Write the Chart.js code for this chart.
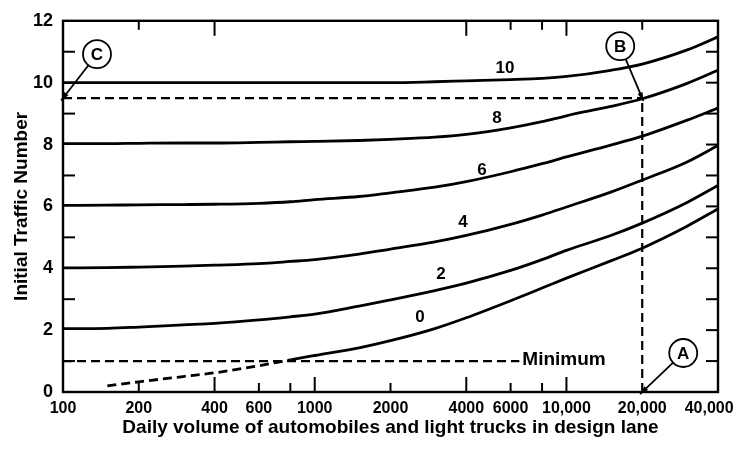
<!DOCTYPE html>
<html>
<head>
<meta charset="utf-8">
<script src="https://cdn.jsdelivr.net/npm/chart.js@4.4.0/dist/chart.umd.min.js"></script>
<style>
  html, body { margin: 0; padding: 0; background: #fff; }
  #wrap { width: 739px; height: 452px; }
</style>
</head>
<body>
<div id="wrap"><canvas id="chart"></canvas></div>
<script>
// daily volume (x, log) and initial traffic number per heavy-vehicle curve
var volumes = [100, 150, 200, 300, 400, 600, 800, 1000, 1500, 2000, 3000, 4000, 6000, 8000, 10000, 15000, 20000, 30000, 40000];
var itn10 = [10.0, 10.0, 10.0, 10.0, 10.0, 10.0, 10.0, 10.0, 10.0, 10.0, 10.03, 10.06, 10.1, 10.14, 10.2, 10.4, 10.6, 11.05, 11.48];
var itn8  = [8.03, 8.03, 8.04, 8.05, 8.05, 8.07, 8.09, 8.1, 8.13, 8.17, 8.24, 8.33, 8.54, 8.74, 8.93, 9.23, 9.48, 9.97, 10.4];
var itn6  = [6.03, 6.04, 6.05, 6.06, 6.07, 6.1, 6.15, 6.22, 6.32, 6.44, 6.62, 6.8, 7.12, 7.38, 7.6, 7.98, 8.27, 8.78, 9.18];
var itn4  = [4.01, 4.02, 4.04, 4.07, 4.1, 4.15, 4.22, 4.28, 4.46, 4.62, 4.85, 5.06, 5.42, 5.72, 5.98, 6.46, 6.85, 7.43, 7.97];
var itn2  = [2.05, 2.06, 2.1, 2.17, 2.22, 2.33, 2.43, 2.52, 2.78, 2.98, 3.28, 3.52, 3.93, 4.28, 4.58, 5.06, 5.46, 6.12, 6.68];
var itn0  = [null, 0.2, 0.33, 0.5, 0.62, 0.85, 1.04, 1.18, 1.43, 1.66, 2.05, 2.4, 2.95, 3.36, 3.68, 4.24, 4.65, 5.35, 5.92];
var curveNames = ['10', '8', '6', '4', '2', '0'];
// where the curve numbers are written (volume, ITN)
var curveLabelX = [5700, 5300, 4620, 3880, 3175, 2620];
var curveLabelY = [10.46, 8.86, 7.17, 5.47, 3.81, 2.4];

var xTickValues = [100, 200, 400, 600, 1000, 2000, 4000, 6000, 10000, 20000, 40000];
var xTickLabels = ['100', '200', '400', '600', '1000', '2000', '4000', '6000', '10,000', '20,000', '40,000'];
var yTickValues = [0, 2, 4, 6, 8, 10, 12];

// example: 20,000 vehicles (A) -> curve 8 (B) -> ITN 9.5 (C)
var minimumItn = 1;
var minimumEnd = 6500;
var exampleVolume = 20000;
var exampleItn = 9.5;

var sans = "'Liberation Sans', Arial, sans-serif";

function pts(arr) {
    var out = [];
    for (var i = 0; i < volumes.length; i++) {
        if (arr[i] !== null) out.push({x: volumes[i], y: arr[i]});
    }
    return out;
}

function curve(arr) {
    return {
        data: pts(arr), borderColor: '#000', borderWidth: 2.8,
        pointRadius: 0, tension: 0.4, cubicInterpolationMode: 'monotone', fill: false
    };
}

var datasets = [curve(itn10), curve(itn8), curve(itn6), curve(itn4), curve(itn2), curve(itn0)];
// the 0 curve is dashed below the minimum
datasets[5].segment = {
    borderDash: function (ctx) { return ctx.p1.parsed.x <= 800 ? [9, 5] : undefined; }
};
function dashed(data) {
    return { data: data, borderColor: '#000', borderWidth: 2.2, borderDash: [9, 5], pointRadius: 0, fill: false };
}
datasets.push(dashed([{x: volumes[0], y: minimumItn}, {x: minimumEnd, y: minimumItn}]));
datasets.push(dashed([{x: volumes[0], y: exampleItn}, {x: exampleVolume, y: exampleItn}]));
datasets.push(dashed([{x: exampleVolume, y: 0}, {x: exampleVolume, y: exampleItn}]));

function arrow(ctx, x1, y1, x2, y2) {
    ctx.beginPath();
    ctx.moveTo(x1, y1);
    ctx.lineTo(x2, y2);
    ctx.stroke();
    var a = Math.atan2(y2 - y1, x2 - x1);
    ctx.beginPath();
    ctx.moveTo(x2, y2);
    ctx.lineTo(x2 - 9 * Math.cos(a - 0.3), y2 - 9 * Math.sin(a - 0.3));
    ctx.lineTo(x2 - 9 * Math.cos(a + 0.3), y2 - 9 * Math.sin(a + 0.3));
    ctx.closePath();
    ctx.fill();
}

function bubble(ctx, letter, tx, ty, dx, dy) {
    var cx = tx + dx, cy = ty + dy, r = 14;
    var d = Math.sqrt(dx * dx + dy * dy);
    arrow(ctx, cx - dx / d * r, cy - dy / d * r, tx - dx / d * 3, ty - dy / d * 3);
    ctx.beginPath();
    ctx.arc(cx, cy, r, 0, Math.PI * 2);
    ctx.fillStyle = '#fff';
    ctx.fill();
    ctx.stroke();
    ctx.fillStyle = '#000';
    ctx.font = 'bold 17px ' + sans;
    ctx.textAlign = 'center';
    ctx.textBaseline = 'middle';
    ctx.fillText(letter, cx, cy + 1);
}

var decorations = {
    id: 'decorations',
    afterDatasetsDraw: function (chart) {
        var ctx = chart.ctx, a = chart.chartArea;
        var xs = chart.scales.x, ys = chart.scales.y;
        ctx.save();
        ctx.strokeStyle = '#000';
        ctx.fillStyle = '#000';
        ctx.lineWidth = 2.4;
        ctx.strokeRect(a.left, a.top, a.right - a.left, a.bottom - a.top);

        // inward tick marks
        ctx.lineWidth = 2;
        var bottomTicks = [200, 400, 600, 800, 1000, 2000, 4000, 6000, 8000, 10000];
        var topTicks = [200, 400, 4000, 6000, 8000, 10000, 20000];
        var longTicks = [400, 1000, 4000, 10000];
        bottomTicks.forEach(function (v) {
            var x = xs.getPixelForValue(v), len = longTicks.indexOf(v) >= 0 ? 15 : 9;
            ctx.beginPath(); ctx.moveTo(x, a.bottom); ctx.lineTo(x, a.bottom - len); ctx.stroke();
        });
        topTicks.forEach(function (v) {
            var x = xs.getPixelForValue(v), len = longTicks.indexOf(v) >= 0 ? 15 : 9;
            ctx.beginPath(); ctx.moveTo(x, a.top); ctx.lineTo(x, a.top + len); ctx.stroke();
        });
        for (var v = 1; v <= 11; v++) {
            var y = ys.getPixelForValue(v);
            if (v % 2 === 1) {
                ctx.beginPath(); ctx.moveTo(a.left, y); ctx.lineTo(a.left + 12, y); ctx.stroke();
            }
            ctx.beginPath(); ctx.moveTo(a.right, y); ctx.lineTo(a.right - 12, y); ctx.stroke();
        }

        // curve numbers
        ctx.font = 'bold 17px ' + sans;
        ctx.textAlign = 'center';
        ctx.textBaseline = 'middle';
        for (var i = 0; i < curveNames.length; i++) {
            ctx.fillText(curveNames[i], xs.getPixelForValue(curveLabelX[i]), ys.getPixelForValue(curveLabelY[i]));
        }
        ctx.font = 'bold 19px ' + sans;
        ctx.textAlign = 'left';
        ctx.fillText('Minimum', xs.getPixelForValue(minimumEnd) + 3, ys.getPixelForValue(minimumItn) - 1);

        // example path markers
        ctx.lineWidth = 1.8;
        bubble(ctx, 'A', xs.getPixelForValue(exampleVolume), ys.getPixelForValue(0), 41, -39);
        bubble(ctx, 'B', xs.getPixelForValue(exampleVolume), ys.getPixelForValue(exampleItn), -22, -52);
        bubble(ctx, 'C', xs.getPixelForValue(volumes[0]), ys.getPixelForValue(exampleItn), 34, -44);
        ctx.restore();
    }
};

var chart = new Chart(document.getElementById('chart').getContext('2d'), {
    type: 'line',
    data: { datasets: datasets },
    options: {
        responsive: true,
        maintainAspectRatio: false,
        animation: false,
        layout: { padding: { top: 17, right: 21, left: 0, bottom: 0 } },
        plugins: { legend: { display: false }, tooltip: { enabled: false } },
        scales: {
            x: {
                type: 'logarithmic', min: 100, max: 40000,
                grid: { display: false, drawTicks: false },
                border: { display: false },
                afterBuildTicks: function (s) { s.ticks = xTickValues.map(function (v) { return {value: v}; }); },
                afterFit: function (s) { s.height = 60; s.paddingLeft = 0; s.paddingRight = 0; },
                ticks: {
                    autoSkip: false, maxRotation: 0, padding: 7, color: '#000',
                    font: { family: sans, size: 16, weight: 'bold' },
                    callback: function (v) {
                        var i = xTickValues.indexOf(v);
                        if (i < 0) return '';
                        // last label sits a little inside the right edge
                        return i === xTickValues.length - 1 ? xTickLabels[i] + '    ' : xTickLabels[i];
                    }
                },
                title: {
                    display: true, text: 'Daily volume of automobiles and light trucks in design lane',
                    color: '#000', font: { family: sans, size: 19, weight: 'bold' }, padding: { top: 0, bottom: 13 }
                }
            },
            y: {
                min: 0, max: 12,
                grid: { display: false, drawTicks: false },
                border: { display: false },
                afterBuildTicks: function (s) { s.ticks = yTickValues.map(function (v) { return {value: v}; }); },
                afterFit: function (s) { s.width = 63; },
                ticks: { padding: 10, color: '#000', font: { family: sans, size: 18, weight: 'bold' } },
                title: {
                    display: true, text: 'Initial Traffic Number',
                    color: '#000', font: { family: sans, size: 19, weight: 'bold' }, padding: { top: 10, bottom: 0 }
                }
            }
        }
    },
    plugins: [decorations]
});
</script>
</body>
</html>
